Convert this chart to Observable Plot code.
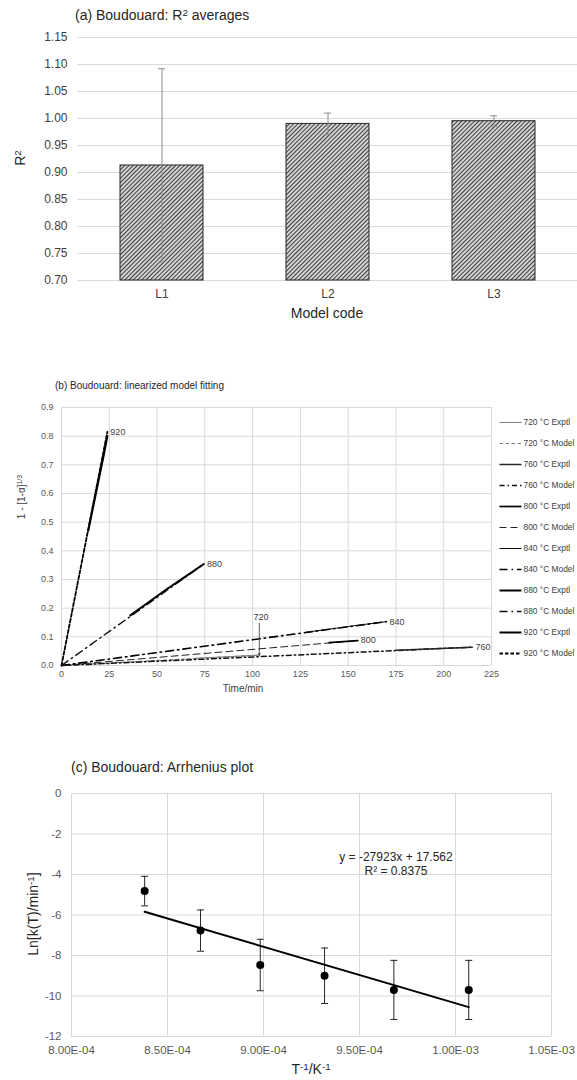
<!DOCTYPE html>
<html><head><meta charset="utf-8">
<script src="https://cdn.jsdelivr.net/npm/d3@7"></script>
<script src="https://cdn.jsdelivr.net/npm/@observablehq/plot@0.6"></script>
<style>
body{margin:0;background:#fff;font-family:"Liberation Sans",Arial,sans-serif;}
#root{position:relative;width:577px;height:1080px;overflow:hidden;background:#fff;}
.abs{position:absolute;white-space:nowrap;line-height:1;}
svg{overflow:visible}
sup{font-size:0.7em;vertical-align:0;position:relative;top:-0.45em;}
</style></head><body><div id="root"></div>
<script>
// ---------- Panel (a) data ----------
const modelCodes = ["L1", "L2", "L3"];
const r2Mean = [0.913, 0.990, 0.995];
const r2Err = [0.179, 0.020, 0.010];
const r2Ticks = [0.70, 0.75, 0.80, 0.85, 0.90, 0.95, 1.00, 1.05, 1.10, 1.15];

// ---------- Panel (b) data (time/min, 1-[1-a]^1/3) ----------
const t720Exptl = [70, 85, 103.5];   const v720Exptl = [0.025, 0.030, 0.036];
const t720Model = [0, 103.5];         const v720Model = [0, 0.036];
const t760Exptl = [175, 195, 215];    const v760Exptl = [0.053, 0.058, 0.064];
const t760Model = [0, 215];           const v760Model = [0, 0.064];
const t800Exptl = [140, 155];         const v800Exptl = [0.080, 0.087];
const t800Model = [0, 155];           const v800Model = [0, 0.087];
const t840Exptl = [128, 150, 170];    const v840Exptl = [0.116, 0.136, 0.153];
const t840Model = [0, 170];           const v840Model = [0, 0.153];
const t880Exptl = [36, 45, 55, 65, 74.5]; const v880Exptl = [0.175, 0.218, 0.266, 0.311, 0.354];
const t880Model = [0, 74.5];          const v880Model = [0, 0.354];
const t920Exptl = [14, 16, 18, 20, 22, 24]; const v920Exptl = [0.47, 0.535, 0.60, 0.665, 0.73, 0.80];
const t920Model = [0, 24];            const v920Model = [0, 0.815];
const seriesNames = ["720 °C Exptl", "720 °C Model", "760 °C Exptl", "760 °C Model", "800 °C Exptl", "800 °C Model",
                     "840 °C Exptl", "840 °C Model", "880 °C Exptl", "880 °C Model", "920 °C Exptl", "920 °C Model"];
const seriesT = [t720Exptl, t720Model, t760Exptl, t760Model, t800Exptl, t800Model, t840Exptl, t840Model, t880Exptl, t880Model, t920Exptl, t920Model];
const seriesV = [v720Exptl, v720Model, v760Exptl, v760Model, v800Exptl, v800Model, v840Exptl, v840Model, v880Exptl, v880Model, v920Exptl, v920Model];
const endLabels = ["920", "880", "840", "800", "760"];
const endLabelT = [24, 74.5, 170, 155, 215];
const endLabelV = [0.815, 0.354, 0.153, 0.087, 0.064];
const label720 = ["720"]; const label720T = [101]; const label720V = [0.168];
const leader720T = [103.5]; const leader720Top = [0.148]; const leader720Bottom = [0.036];
const timeTicks = [0, 25, 50, 75, 100, 125, 150, 175, 200, 225];
const fracTicks = [0, 0.1, 0.2, 0.3, 0.4, 0.5, 0.6, 0.7, 0.8, 0.9];

// ---------- Panel (c) data ----------
const invT = [8.381e-4, 8.672e-4, 8.983e-4, 9.318e-4, 9.679e-4, 1.0069e-3];
const lnK = [-4.82, -6.77, -8.47, -9.00, -9.70, -9.70];
const lnKErr = [0.73, 1.02, 1.27, 1.37, 1.46, 1.46];
const fitX = [8.381e-4, 1.0069e-3];
const fitY = [-5.84, -10.55];
const eqnText = ["y = -27923x + 17.562\nR² = 0.8375"];
const eqnX = [9.69e-4]; const eqnY = [-3.47];
const invTTicks = [8.0e-4, 8.5e-4, 9.0e-4, 9.5e-4, 1.0e-3, 1.05e-3];
const lnKTicks = [0, -2, -4, -6, -8, -10, -12];

// ---------- styles ----------
const FONT = "Liberation Sans, Arial, sans-serif";
const lineStyles = {
  "720 °C Exptl": {stroke: "#7f7f7f", strokeWidth: 1},
  "720 °C Model": {stroke: "#7f7f7f", strokeWidth: 1.2, strokeDasharray: "3.5,2.5"},
  "760 °C Exptl": {stroke: "#262626", strokeWidth: 1.5},
  "760 °C Model": {stroke: "#111", strokeWidth: 1.5, strokeDasharray: "5,3,1.5,3"},
  "800 °C Exptl": {stroke: "#000", strokeWidth: 1.7},
  "800 °C Model": {stroke: "#222", strokeWidth: 1, strokeDasharray: "7,4"},
  "840 °C Exptl": {stroke: "#111", strokeWidth: 1},
  "840 °C Model": {stroke: "#000", strokeWidth: 1.6, strokeDasharray: "8,4,1.5,4"},
  "880 °C Exptl": {stroke: "#000", strokeWidth: 2},
  "880 °C Model": {stroke: "#111", strokeWidth: 1.4, strokeDasharray: "8,4,1.5,4"},
  "920 °C Exptl": {stroke: "#000", strokeWidth: 2},
  "920 °C Model": {stroke: "#000", strokeWidth: 1.8, strokeDasharray: "3.5,2"}
};

const root = document.getElementById("root");
function place(el, left, top) {
  el.style.position = "absolute"; el.style.left = left + "px"; el.style.top = top + "px";
  root.appendChild(el);
}
function addLabel(html, cx, cy, size, opts = {}) {
  const d = document.createElement("div");
  d.className = "abs";
  d.innerHTML = html;
  d.style.left = cx + "px"; d.style.top = cy + "px";
  d.style.fontSize = size + "px";
  d.style.color = opts.color || "#404040";
  const tx = opts.anchor === "start" ? "0" : "-50%";
  d.style.transform = `translate(${tx},-50%)` + (opts.rotate ? " rotate(-90deg)" : "");
  root.appendChild(d);
}

// ================= Panel (a) =================
const barsA = modelCodes.map((m, i) => ({m, v: r2Mean[i], lo: r2Mean[i] - r2Err[i], hi: r2Mean[i] + r2Err[i]}));
const yMinA = r2Ticks[0];
const chartA = Plot.plot({
  width: 577, height: 305, marginTop: 12, marginBottom: 50, marginLeft: 77, marginRight: 0,
  style: {fontFamily: FONT, fontSize: "12px", color: "#404040", background: "transparent"},
  x: {domain: modelCodes, paddingInner: 0.5, paddingOuter: 0.25, label: null, tickSize: 0, tickPadding: 9},
  y: {domain: [r2Ticks[0], r2Ticks[r2Ticks.length - 1]], ticks: r2Ticks, tickFormat: d3.format(".2f"), label: null, tickSize: 0, tickPadding: 10},
  marks: [
    Plot.gridY(r2Ticks, {stroke: "#d9d9d9", strokeOpacity: 1}),
    Plot.barY(barsA, {x: "m", y1: () => yMinA, y2: "v", fill: "url(#hatchA)", stroke: "#262626", strokeWidth: 1}),
    Plot.ruleX(barsA, {x: "m", y1: "lo", y2: "hi", stroke: "#8c8c8c", strokeWidth: 1}),
    Plot.tickY(barsA, {x: "m", y: "hi", stroke: "#8c8c8c", insetLeft: 38, insetRight: 38}),
    Plot.tickY(barsA, {x: "m", y: "lo", stroke: "#8c8c8c", insetLeft: 38, insetRight: 38})
  ]
});
{
  const defs = d3.select(chartA).insert("defs", ":first-child");
  const pat = defs.append("pattern").attr("id", "hatchA").attr("patternUnits", "userSpaceOnUse")
    .attr("width", 3).attr("height", 3).attr("patternTransform", "rotate(45)");
  pat.append("rect").attr("width", 3).attr("height", 3).attr("fill", "#e4e4e4");
  pat.append("line").attr("x1", 1.5).attr("y1", 0).attr("x2", 1.5).attr("y2", 3).attr("stroke", "#3c3c3c").attr("stroke-width", 1.2);
}
place(chartA, 0, 25);
addLabel("(a) Boudouard: R<sup>2</sup> averages", 75, 15, 14, {anchor: "start", color: "#262626"});
addLabel("R<sup>2</sup>", 20, 158, 14, {rotate: true, color: "#262626"});
addLabel("Model code", 327, 313, 14, {color: "#262626"});

// ================= Panel (b) =================
const linesB = seriesNames.map((name, i) => ({name, pts: seriesT[i].map((t, j) => ({t, v: seriesV[i][j]}))}));
const drawOrder = [1, 3, 5, 7, 9, 11, 0, 2, 4, 6, 8, 10];
const endLab = endLabels.map((s, i) => ({s, t: endLabelT[i], v: endLabelV[i]}));
const chartB = Plot.plot({
  width: 495, height: 295, marginTop: 12, marginBottom: 25, marginLeft: 61, marginRight: 4,
  style: {fontFamily: FONT, fontSize: "9px", color: "#595959", background: "transparent"},
  x: {domain: [0, 225], ticks: timeTicks, label: null, tickSize: 0, tickPadding: 5},
  y: {domain: [0, 0.9], ticks: fracTicks, tickFormat: d3.format(".1f"), label: null, tickSize: 0, tickPadding: 8},
  marks: [
    Plot.gridX(timeTicks, {stroke: "#d9d9d9", strokeOpacity: 1}),
    Plot.gridY(fracTicks, {stroke: "#d9d9d9", strokeOpacity: 1}),
    ...drawOrder.map(i => Plot.line(linesB[i].pts, {x: "t", y: "v", ...lineStyles[linesB[i].name]})),
    Plot.arrow(leader720T.map((t, i) => ({t, a: leader720Top[i], b: leader720Bottom[i]})),
      {x1: "t", x2: "t", y1: "a", y2: "b", stroke: "#333", strokeWidth: 0.8, headLength: 4}),
    Plot.text(endLab, {x: "t", y: "v", text: "s", textAnchor: "start", dx: 3, fill: "#404040"}),
    Plot.text(label720.map((s, i) => ({s, t: label720T[i], v: label720V[i]})), {x: "t", y: "v", text: "s", textAnchor: "start", dx: -1, fill: "#404040"})
  ]
});
place(chartB, 0, 395);
addLabel("(b) Boudouard: linearized model fitting", 55, 386, 10, {anchor: "start", color: "#262626"});
addLabel("1 - [1-α]<sup>1/3</sup>", 22, 497, 10, {rotate: true, color: "#404040"});
addLabel("Time/min", 243, 689, 10, {color: "#404040"});

// legend for (b)
const chartLeg = Plot.plot({
  width: 80, height: 260, marginTop: 10, marginBottom: 11, marginLeft: 0, marginRight: 0,
  style: {fontFamily: FONT, fontSize: "8.4px", color: "#404040", background: "transparent"},
  x: {domain: [0, 1], range: [4, 26], axis: null},
  y: {type: "point", domain: seriesNames, padding: 0, axis: null},
  marks: [
    ...seriesNames.map(name => Plot.link([name], {x1: () => 0, x2: () => 1, y1: d => d, y2: d => d, ...lineStyles[name]})),
    Plot.text(seriesNames, {x: () => 1, y: d => d, text: d => d, textAnchor: "start", dx: 2, fill: "#404040"})
  ]
});
place(chartLeg, 495, 408);

// ================= Panel (c) =================
const ptsC = invT.map((x, i) => ({x, y: lnK[i], lo: lnK[i] - lnKErr[i], hi: lnK[i] + lnKErr[i]}));
const fitC = fitX.map((x, i) => ({x, y: fitY[i]}));
const capSymbol = {draw(ctx, size) { const r = Math.sqrt(size / Math.PI); ctx.moveTo(-r, 0); ctx.lineTo(r, 0); }};
const sciFmt = d => { const [m, e] = d.toExponential(2).toUpperCase().split("E"); const n = +e; return m + "E" + (n < 0 ? "-" : "+") + String(Math.abs(n)).padStart(2, "0"); };
const chartC = Plot.plot({
  width: 577, height: 285, marginTop: 13, marginBottom: 29, marginLeft: 71, marginRight: 26,
  style: {fontFamily: FONT, fontSize: "11.5px", color: "#595959", background: "transparent"},
  x: {domain: [invTTicks[0], invTTicks[invTTicks.length - 1]], ticks: invTTicks, tickFormat: sciFmt, label: null, tickSize: 0, tickPadding: 9},
  y: {domain: [-12, 0], ticks: lnKTicks, tickFormat: d => String(d), label: null, tickSize: 0, tickPadding: 10},
  marks: [
    Plot.gridX(invTTicks, {stroke: "#d9d9d9", strokeOpacity: 1}),
    Plot.gridY(lnKTicks, {stroke: "#d9d9d9", strokeOpacity: 1}),
    Plot.ruleX(ptsC, {x: "x", y1: "lo", y2: "hi", stroke: "#262626", strokeWidth: 1}),
    Plot.dot(ptsC, {x: "x", y: "hi", symbol: capSymbol, r: 3.5, stroke: "#262626", fill: "none", strokeWidth: 1}),
    Plot.dot(ptsC, {x: "x", y: "lo", symbol: capSymbol, r: 3.5, stroke: "#262626", fill: "none", strokeWidth: 1}),
    Plot.line(fitC, {x: "x", y: "y", stroke: "#000", strokeWidth: 2}),
    Plot.dot(ptsC, {x: "x", y: "y", r: 4, fill: "#000", stroke: "none"}),
    Plot.text(eqnText.map((s, i) => ({s, x: eqnX[i], y: eqnY[i]})), {x: "x", y: "y", text: "s", fill: "#262626", fontSize: 12, lineHeight: 1.1})
  ]
});
place(chartC, 0, 780);
addLabel("(c) Boudouard: Arrhenius plot", 71, 767, 14, {anchor: "start", color: "#262626"});
addLabel("Ln[k(T)/min<sup>-1</sup>]", 33, 914, 14, {rotate: true, color: "#262626"});
addLabel("T<sup>-1</sup>/K<sup>-1</sup>", 311, 1069, 14, {color: "#262626"});
</script></body></html>
